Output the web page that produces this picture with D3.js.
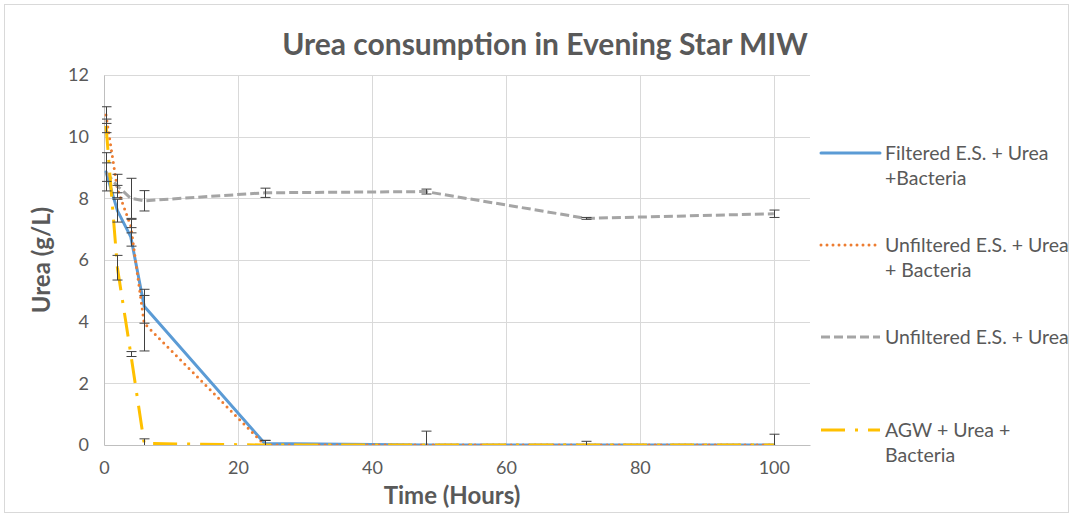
<!DOCTYPE html>
<html>
<head>
<meta charset="utf-8">
<script src="https://cdn.jsdelivr.net/npm/d3@7"></script>
<style>
    body { margin: 0; background: #fff; }
    .axis text { font-family: Lato, sans-serif; font-size: 18px; fill: #595959; }
    .grid line { stroke: #d9d9d9; }
    .legend text { font-family: Lato, sans-serif; font-size: 19.5px; fill: #595959; }
</style>
</head>
<body>
<svg id="chart" width="1074" height="518"></svg>
<script>
// sampling times (hours)
const times = [0.3, 2, 4, 6, 24, 48, 72, 100];

// urea (g/L) per series, with error bar half-widths
const filtered      = [8.86, 7.6, 6.75, 4.5, 0.05, 0, 0, 0];
const filteredErr   = [0.62, 0.37, 0.3, 0.55, 0.1, 0, 0.12, 0.35];
const unfilteredB   = [10.7, 8.3, 7.1, 3.95, 0, 0, 0, 0];
const unfilteredBErr = [0.27, 0.12, 0.22, 0.9, 0.15, 0.45, 0, 0];
const unfilteredU   = [8.85, 8.4, 8.0, 7.92, 8.18, 8.22, 7.35, 7.5];
const unfilteredUErr = [0.3, 0.38, 0.65, 0.33, 0.15, 0.08, 0.03, 0.12];
const agw           = [10.35, 5.75, 2.95, 0.05, 0, 0, 0, 0];
const agwErr        = [0.22, 0.4, 0.08, 0.15, 0, 0, 0, 0];

const xTicks = [0, 20, 40, 60, 80, 100];
const yTicks = [0, 2, 4, 6, 8, 10, 12];

const seriesNames = [
    ["Filtered E.S. + Urea", "+Bacteria"],
    ["Unfiltered E.S. + Urea", "+ Bacteria"],
    ["Unfiltered E.S. + Urea"],
    ["AGW + Urea +", "Bacteria"]
];

const series = [
    { values: filtered, err: filteredErr, color: "#5b9bd5", width: 3, dash: null, cap: "round" },
    { values: unfilteredB, err: unfilteredBErr, color: "#ed7d31", width: 3, dash: "0 6", cap: "round" },
    { values: unfilteredU, err: unfilteredUErr, color: "#a5a5a5", width: 3, dash: "9 4", cap: "butt" },
    { values: agw, err: agwErr, color: "#ffc000", width: 3, dash: "24 10 3 10", cap: "butt" }
];

const svg = d3.select("#chart");
const margin = { left: 104, top: 75, right: 264, bottom: 73 };
const width = 1074 - margin.left - margin.right;
const height = 518 - margin.top - margin.bottom;

// outer chart border
svg.append("rect")
    .attr("x", 4.5).attr("y", 4.5)
    .attr("width", 1064).attr("height", 508)
    .attr("fill", "none")
    .attr("stroke", "#d9d9d9");

const g = svg.append("g").attr("transform", `translate(${margin.left},${margin.top})`);

const xScale = d3.scaleLinear().domain([0, 105.4]).range([0, width]);
const yScale = d3.scaleLinear().domain([0, 12]).range([height, 0]);

g.append("defs").append("clipPath").attr("id", "plotClip")
    .append("rect").attr("x", -2).attr("y", -2).attr("width", width + 4).attr("height", height + 2);

// gridlines
g.append("g").attr("class", "grid")
    .selectAll("line.h").data(yTicks.slice(1)).join("line")
    .attr("x1", 0).attr("x2", width)
    .attr("y1", d => Math.round(yScale(d)) + 0.5).attr("y2", d => Math.round(yScale(d)) + 0.5);
g.append("g").attr("class", "grid")
    .selectAll("line.v").data(xTicks.slice(1)).join("line")
    .attr("y1", 0).attr("y2", height)
    .attr("x1", d => Math.round(xScale(d)) + 0.5).attr("x2", d => Math.round(xScale(d)) + 0.5);

// axes
const xAxis = d3.axisBottom(xScale).tickValues(xTicks).tickSize(0).tickPadding(16);
const yAxis = d3.axisLeft(yScale).tickValues(yTicks).tickSize(0).tickPadding(15);

g.append("g").attr("class", "x-axis axis")
    .attr("transform", `translate(0,${height})`)
    .call(xAxis)
    .call(a => a.select(".domain").attr("stroke", "#bfbfbf"));
g.append("g").attr("class", "y-axis axis")
    .call(yAxis)
    .call(a => a.select(".domain").attr("stroke", "#bfbfbf"));

// lines
const plot = g.append("g").attr("clip-path", "url(#plotClip)");
const line = d3.line().x((d, i) => xScale(times[i])).y(d => yScale(d));

series.forEach(s => {
    plot.append("path")
        .datum(s.values)
        .attr("class", "data-line")
        .attr("d", line)
        .attr("fill", "none")
        .attr("stroke", s.color)
        .attr("stroke-width", s.width)
        .attr("stroke-linecap", s.cap)
        .attr("stroke-linejoin", "round")
        .attr("stroke-dasharray", s.dash);
});

// error bars
const capW = 5;
series.forEach(s => {
    s.values.forEach((v, i) => {
        const e = s.err[i];
        if (!e) return;
        const x = Math.round(xScale(times[i])) + 0.5;
        const y1 = yScale(v + e), y2 = yScale(v - e);
        const eb = plot.append("g").attr("stroke", "#404040").attr("stroke-width", 1);
        eb.append("line").attr("x1", x).attr("x2", x).attr("y1", y1).attr("y2", y2);
        eb.append("line").attr("x1", x - capW).attr("x2", x + capW).attr("y1", y1).attr("y2", y1);
        eb.append("line").attr("x1", x - capW).attr("x2", x + capW).attr("y1", y2).attr("y2", y2);
    });
});

// titles
svg.append("text")
    .attr("x", 545).attr("y", 55)
    .attr("text-anchor", "middle")
    .style("font-family", "Lato, sans-serif")
    .style("font-size", "30px").style("font-weight", "bold")
    .style("fill", "#595959")
    .text("Urea consumption in Evening Star MIW");

svg.append("text")
    .attr("x", 452).attr("y", 504)
    .attr("text-anchor", "middle")
    .style("font-family", "Lato, sans-serif")
    .style("font-size", "24px").style("font-weight", "bold")
    .style("fill", "#595959")
    .text("Time (Hours)");

svg.append("text")
    .attr("transform", "translate(50,260) rotate(-90)")
    .attr("text-anchor", "middle")
    .style("font-family", "Lato, sans-serif")
    .style("font-size", "24px").style("font-weight", "bold")
    .style("fill", "#595959")
    .text("Urea (g/L)");

// legend
const legendY = [153, 245, 337, 430];
const legend = svg.append("g").attr("class", "legend");
series.forEach((s, i) => {
    legend.append("line")
        .attr("x1", 821).attr("x2", 880)
        .attr("y1", legendY[i]).attr("y2", legendY[i])
        .attr("stroke", s.color)
        .attr("stroke-width", s.width)
        .attr("stroke-linecap", s.cap)
        .attr("stroke-dasharray", s.dash);
    seriesNames[i].forEach((txt, j) => {
        legend.append("text")
            .attr("x", 885)
            .attr("y", legendY[i] + 7 + j * 25)
            .text(txt);
    });
});
</script>
</body>
</html>
